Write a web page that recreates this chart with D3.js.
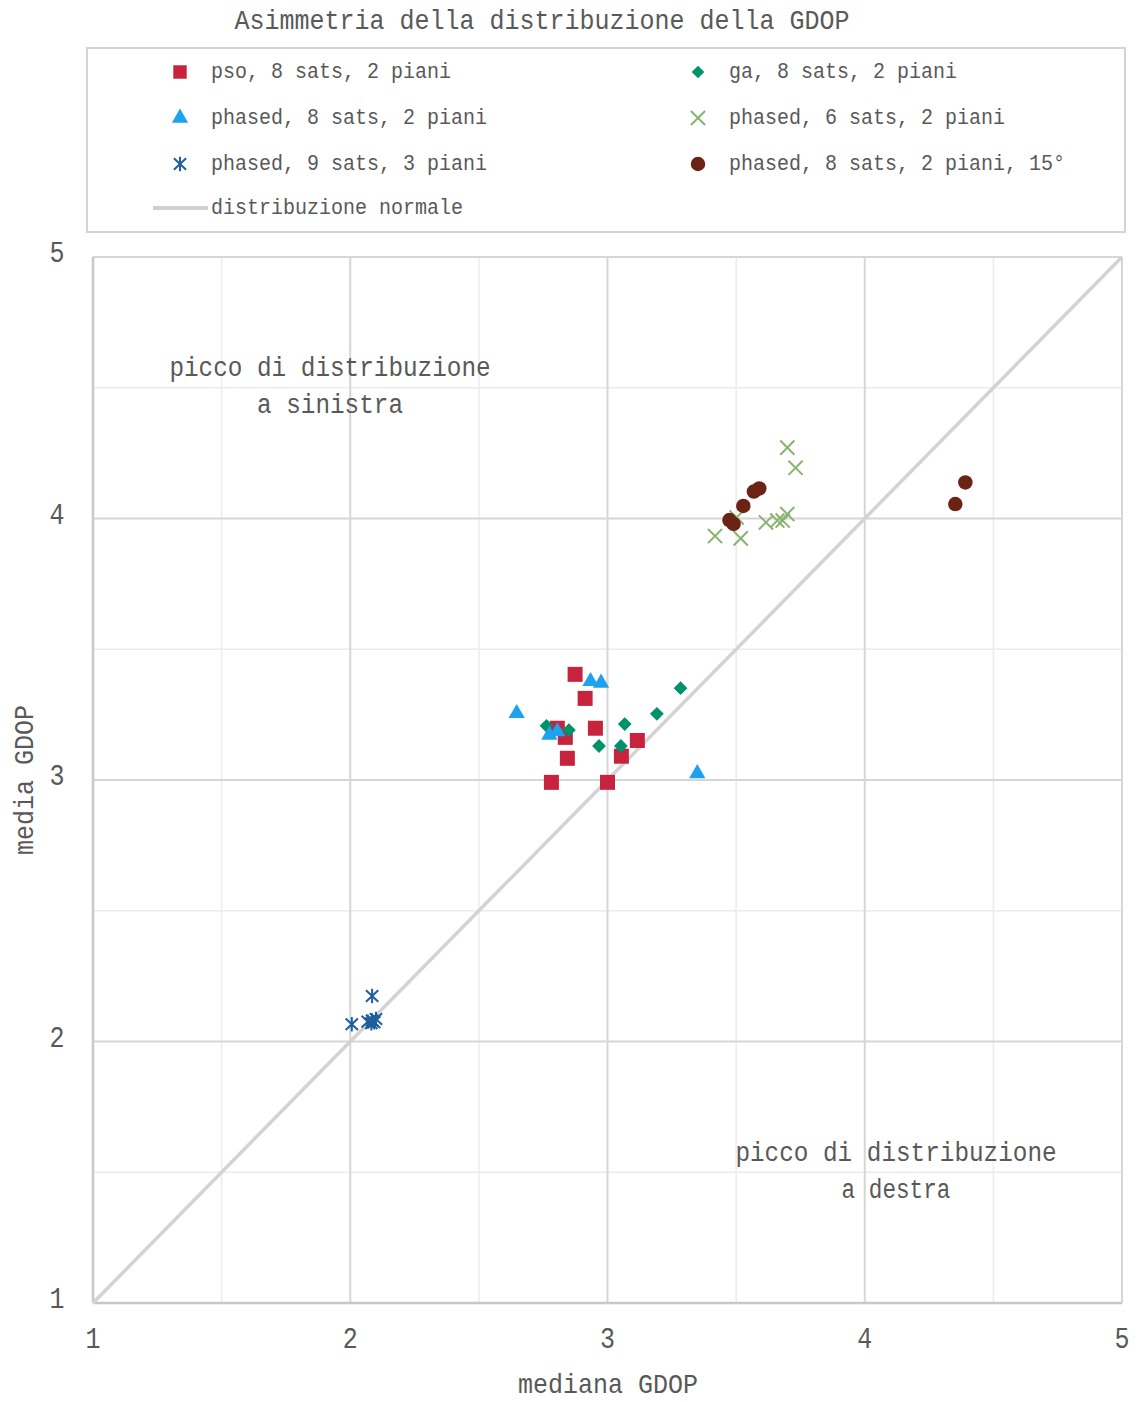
<!DOCTYPE html>
<head>
    <meta charset="utf-8">
    <script src="https://d3js.org/d3.v7.min.js"></script>
    <style>
        body { margin: 0; background: #fff; }
        text { font-family: "Liberation Mono", "DejaVu Sans Mono", monospace; fill: #595959; }
    </style>
</head>
<body>
    <div id="chart"></div>
    <script>
        // values: [mediana, media]
        var pso8 = [[2.874, 3.404], [2.913, 3.312], [2.805, 3.198], [2.836, 3.163], [2.953, 3.198],
            [2.844, 3.083], [2.782, 2.991], [3.0, 2.991], [3.116, 3.151], [3.054, 3.091]]
        var ga8 = [[2.763, 3.207], [2.850, 3.191], [2.967, 3.130], [3.067, 3.214], [3.052, 3.130],
            [3.192, 3.253], [3.284, 3.351]]
        var phased8 = [[2.934, 3.377], [2.975, 3.371], [2.647, 3.255], [2.774, 3.172], [2.805, 3.185],
            [3.349, 3.025]]
        var phased6 = [[3.699, 4.271], [3.731, 4.194], [3.418, 3.933], [3.518, 3.924], [3.502, 4.004],
            [3.616, 3.985], [3.660, 3.992], [3.681, 3.992], [3.699, 4.017]]
        var phased9 = [[2.006, 2.066], [2.085, 2.174], [2.068, 2.076], [2.085, 2.080], [2.100, 2.086],
            [2.082, 2.070], [2.093, 2.074]]
        var phased15 = [[3.474, 3.994], [3.490, 3.979], [3.528, 4.048], [3.569, 4.103], [3.590, 4.115],
            [4.391, 4.138], [4.352, 4.055]]
        var seriesNames = ["pso, 8 sats, 2 piani", "ga, 8 sats, 2 piani", "phased, 8 sats, 2 piani",
            "phased, 6 sats, 2 piani", "phased, 9 sats, 3 piani", "phased, 8 sats, 2 piani, 15°"]
        var normalLine = [[1, 1], [5, 5]]
        var ticks = [1, 2, 3, 4, 5]
        var minorTicks = [1.5, 2.5, 3.5, 4.5]

        var W = 1137, H = 1402
        var svg = d3.select("#chart").append("svg").attr("width", W).attr("height", H)

        var x = d3.scaleLinear().domain([1, 5]).range([93, 1122])
        var y = d3.scaleLinear().domain([1, 5]).range([1303, 257])

        function label(str, px, py, size, adv, anchor, g) {
            return (g || svg).append("text")
                .attr("x", px).attr("y", py)
                .attr("font-size", size)
                .attr("dominant-baseline", "central")
                .attr("text-anchor", anchor || "middle")
                .attr("textLength", str.length * adv)
                .attr("lengthAdjust", "spacingAndGlyphs")
                .text(str)
        }

        // custom marks
        var timesSym = {
            draw: function(ctx, size) {
                var r = Math.sqrt(size) / 2
                ctx.moveTo(-r, -r); ctx.lineTo(r, r)
                ctx.moveTo(-r, r); ctx.lineTo(r, -r)
            }
        }
        var starSym = {
            draw: function(ctx, size) {
                var r = Math.sqrt(size) / 2
                ctx.moveTo(0, -r); ctx.lineTo(0, r)
                ctx.moveTo(-r * 0.85, -r * 0.8); ctx.lineTo(r * 0.85, r * 0.8)
                ctx.moveTo(-r * 0.85, r * 0.8); ctx.lineTo(r * 0.85, -r * 0.8)
            }
        }
        var styles = [
            { type: d3.symbolSquare, size: 225, fill: "#c7233d" },
            { type: d3.symbolSquare, size: 95, fill: "#00936b", rotate: 45 },
            { type: d3.symbolTriangle, size: 115, fill: "#1fa2ee" },
            { type: timesSym, size: 200, stroke: "#88b46f" },
            { type: starSym, size: 210, stroke: "#1f5f9e" },
            { type: d3.symbolCircle, size: 165, fill: "#6b2413" }
        ]
        var allSeries = [pso8, ga8, phased8, phased6, phased9, phased15]

        function mark(g, st, px, py) {
            var p = g.append("path")
                .attr("d", d3.symbol().type(st.type).size(st.size)())
                .attr("transform", "translate(" + px + "," + py + ")" + (st.rotate ? " rotate(" + st.rotate + ")" : ""))
            if (st.fill) p.attr("fill", st.fill)
            else p.attr("fill", "none").attr("stroke", st.stroke).attr("stroke-width", 2)
        }

        // title
        label("Asimmetria della distribuzione della GDOP", 542, 21, 28, 15)

        // legend
        var leg = svg.append("g")
        leg.append("rect").attr("x", 87).attr("y", 48).attr("width", 1038).attr("height", 184)
            .attr("fill", "none").attr("stroke", "#d4d4d4").attr("stroke-width", 2)
        var legPos = [[180, 72], [698, 72], [180, 118], [698, 118], [180, 164], [698, 164]]
        seriesNames.forEach(function(n, i) {
            var st = Object.assign({}, styles[i])
            if (i === 0) st.size = 180
            if (i === 1) st.size = 80
            mark(leg, st, legPos[i][0], legPos[i][1])
            label(n, legPos[i][0] + 31, legPos[i][1], 22, 12, "start", leg)
        })
        leg.append("line").attr("x1", 153).attr("x2", 208).attr("y1", 208).attr("y2", 208)
            .attr("stroke", "#d0d0d0").attr("stroke-width", 4)
        label("distribuzione normale", 211, 208, 22, 12, "start", leg)

        // grid
        var grid = svg.append("g")
        grid.selectAll(".vmin").data(minorTicks).enter().append("line")
            .attr("x1", d => x(d)).attr("x2", d => x(d)).attr("y1", y(5)).attr("y2", y(1))
            .attr("stroke", "#ececec").attr("stroke-width", 1.5)
        grid.selectAll(".hmin").data(minorTicks).enter().append("line")
            .attr("y1", d => y(d)).attr("y2", d => y(d)).attr("x1", x(1)).attr("x2", x(5))
            .attr("stroke", "#ececec").attr("stroke-width", 1.5)
        grid.selectAll(".vmaj").data(ticks).enter().append("line")
            .attr("x1", d => x(d)).attr("x2", d => x(d)).attr("y1", y(5)).attr("y2", y(1))
            .attr("stroke", "#d6d6d6").attr("stroke-width", 2)
        grid.selectAll(".hmaj").data(ticks).enter().append("line")
            .attr("y1", d => y(d)).attr("y2", d => y(d)).attr("x1", x(1)).attr("x2", x(5))
            .attr("stroke", "#d6d6d6").attr("stroke-width", 2)
        grid.append("line").attr("x1", x(1)).attr("x2", x(1)).attr("y1", y(5)).attr("y2", y(1))
            .attr("stroke", "#c8c8c8").attr("stroke-width", 2.5)
        grid.append("line").attr("x1", x(1)).attr("x2", x(5)).attr("y1", y(1)).attr("y2", y(1))
            .attr("stroke", "#c8c8c8").attr("stroke-width", 2.5)

        // tick labels
        ticks.forEach(function(t) {
            label(String(t), x(t), 1340, 30, 15)
            label(String(t), 57, y(t) - 3, 30, 15)
        })
        label("mediana GDOP", 608, 1385, 28, 15)
        label("media GDOP", 0, 0, 28, 15).attr("transform", "translate(25,780) rotate(-90)")

        // y = x reference line
        svg.append("path")
            .attr("d", d3.line().x(d => x(d[0])).y(d => y(d[1]))(normalLine))
            .attr("stroke", "#d3d3d3").attr("stroke-width", 3.5).attr("fill", "none")

        // annotations
        label("picco di distribuzione", 330, 369, 27, 14.6)
        label("a sinistra", 330, 406, 27, 14.6)
        label("picco di distribuzione", 896, 1154, 27, 14.6)
        label("a destra", 896, 1191, 27, 13.6)

        // points
        allSeries.forEach(function(s, i) {
            var g = svg.append("g")
            s.forEach(function(d) { mark(g, styles[i], x(d[0]), y(d[1])) })
        })
    </script>
</body>
</html>
